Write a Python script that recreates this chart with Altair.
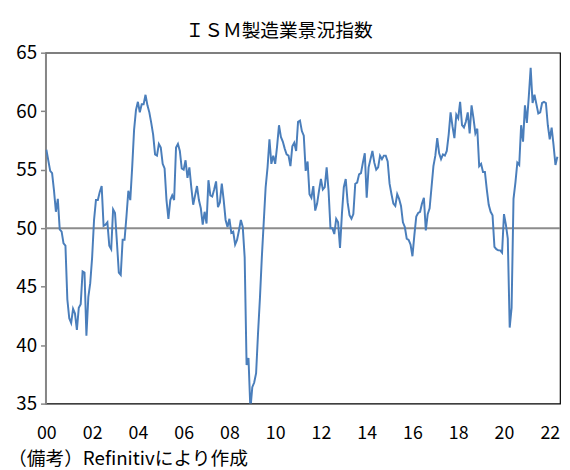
import altair as alt
import pandas as pd

FONT = "Noto Sans CJK JP"

title_text = "ＩＳＭ製造業景況指数"
note_text = "（備考）Refinitivにより作成"

# ISM manufacturing index, monthly, Jan 2000 - May 2022
ism_2000_2004 = [
    56.7, 55.8, 54.9, 54.7, 53.2, 51.4, 52.5, 49.9, 49.7, 48.7, 48.5, 43.9,
    42.3, 41.9, 43.1, 42.7, 41.3, 43.2, 43.5, 46.3, 46.2, 40.8, 44.1, 45.3,
    47.5, 50.7, 52.4, 52.4, 53.1, 53.6, 50.2, 50.3, 50.5, 48.5, 48.2, 51.6,
    51.3, 48.8, 46.2, 46.0, 49.0, 49.0, 51.0, 53.2, 52.4, 55.2, 58.4, 60.1,
    60.8, 59.9, 60.6, 60.6, 61.4, 60.5, 59.9, 59.0, 58.0, 56.3, 56.2, 57.2,
]
ism_2005_2009 = [
    56.9, 55.5, 55.1, 52.4, 50.8, 52.4, 52.8, 52.4, 56.9, 57.2, 56.6, 55.1,
    55.0, 55.8, 54.3, 55.2, 53.5, 52.0, 52.8, 53.6, 52.4, 51.7, 50.3, 51.4,
    50.4, 54.1, 52.8, 52.7, 53.3, 54.0, 51.8, 52.2, 53.8, 52.4, 50.7, 50.1,
    50.8, 49.6, 49.7, 48.6, 49.0, 49.8, 50.7, 50.1, 47.5, 38.3, 38.9, 34.5,
    36.4, 36.8, 37.6, 41.0, 44.0, 47.5, 50.5, 53.5, 55.2, 57.6, 55.5, 56.2,
]
ism_2010_2014 = [
    55.5, 57.0, 58.8, 57.8, 57.4, 56.8, 56.3, 56.2, 55.3, 57.0, 57.3, 56.6,
    59.1, 59.2, 58.3, 57.9, 54.9, 55.7, 52.9, 52.6, 53.6, 51.5, 52.1, 53.2,
    54.2, 53.3, 53.5, 55.2, 53.2, 50.0, 50.0, 49.5, 50.8, 50.5, 48.3, 51.2,
    53.5, 54.2, 52.2, 51.1, 50.8, 51.2, 53.8, 53.9, 54.6, 54.7, 55.6, 56.4,
    52.6, 55.2, 55.9, 56.6, 55.6, 55.0, 55.2, 56.2, 55.9, 56.2, 56.2, 55.7,
]
ism_2015_2019 = [
    53.8, 52.9, 52.1, 51.9, 52.9, 52.5, 51.9, 50.5, 50.1, 49.1, 49.0, 48.6,
    47.6, 49.4, 51.0, 51.3, 51.4, 52.1, 52.6, 49.8, 51.2, 51.7, 53.5, 55.3,
    56.2, 57.7, 56.4, 55.9, 56.3, 56.2, 56.6, 58.0, 59.9, 58.7, 57.7, 59.7,
    59.4, 60.8, 58.8, 58.6, 59.1, 59.9, 58.1, 60.5, 59.4, 58.1, 58.5, 55.3,
    55.5, 54.8, 54.8, 53.3, 52.0, 51.4, 51.1, 48.4, 48.2, 48.1, 48.1, 47.9,
]
ism_2020_2022 = [
    51.2, 50.3, 49.1, 41.5, 43.2, 52.5, 53.9, 55.6, 55.4, 58.8, 57.4, 60.5,
    59.0, 61.2, 63.7, 60.7, 61.4, 60.6, 59.8, 59.9, 60.7, 60.8, 60.7, 58.8,
    57.6, 58.6, 57.1, 55.4, 56.1,
]

threshold = [50]
y_ticks = [35, 40, 45, 50, 55, 60, 65]
x_ticks = [0, 2, 4, 6, 8, 10, 12, 14, 16, 18, 20, 22]

ism = ism_2000_2004 + ism_2005_2009 + ism_2010_2014 + ism_2015_2019 + ism_2020_2022
df = pd.DataFrame({"t": [i / 12 for i in range(len(ism))], "v": ism})

x_scale = alt.Scale(domain=[-0.04, 22.45], nice=False, zero=False)
y_scale = alt.Scale(domain=[35, 65], nice=False, zero=False)

x_axis = alt.Axis(
    values=x_ticks,
    labelExpr="datum.value < 10 ? '0' + datum.value : '' + datum.value",
    ticks=False,
    domain=False,
    grid=False,
    labelPadding=21,
    labelFontSize=18,
    labelFont=FONT,
    labelColor="#000000",
    labelFlush=False,
    title=None,
)
y_axis = alt.Axis(
    values=y_ticks,
    ticks=True,
    tickSize=5,
    tickColor="#868686",
    tickWidth=1.5,
    domain=True,
    domainColor="#868686",
    domainWidth=2,
    grid=False,
    labelPadding=4,
    labelFontSize=19,
    labelFont=FONT,
    labelColor="#000000",
    title=None,
)

rule = alt.Chart(pd.DataFrame({"y": threshold})).mark_rule(
    color="#8c8c8c", strokeWidth=2
).encode(y=alt.Y("y:Q", scale=y_scale, axis=y_axis))

line = alt.Chart(df).mark_line(color="#4a7ebb", strokeWidth=2, clip=True).encode(
    x=alt.X("t:Q", scale=x_scale, axis=x_axis),
    y=alt.Y("v:Q", scale=y_scale, axis=y_axis),
)

note = alt.Chart(pd.DataFrame({"note": [note_text]})).mark_text(
    align="left", baseline="middle", fontSize=19, font=FONT, color="#000000"
).encode(text="note:N", x=alt.value(-38), y=alt.value(412))

chart = (
    alt.layer(rule, line, note)
    .properties(
        width=522,
        height=356,
        padding={"left": 38, "top": 42, "right": 2, "bottom": 64},
        autosize=alt.AutoSizeParams(type="none"),
        title=alt.TitleParams(
            text=title_text,
            font=FONT,
            fontSize=19,
            fontWeight="normal",
            color="#000000",
            anchor="middle",
            dx=-24,
            offset=3,
        ),
        background="white",
    )
    .configure_view(stroke="#000000", strokeWidth=1.2)
)

chart.save("out.html", embed_options={"renderer": "svg", "actions": False})
